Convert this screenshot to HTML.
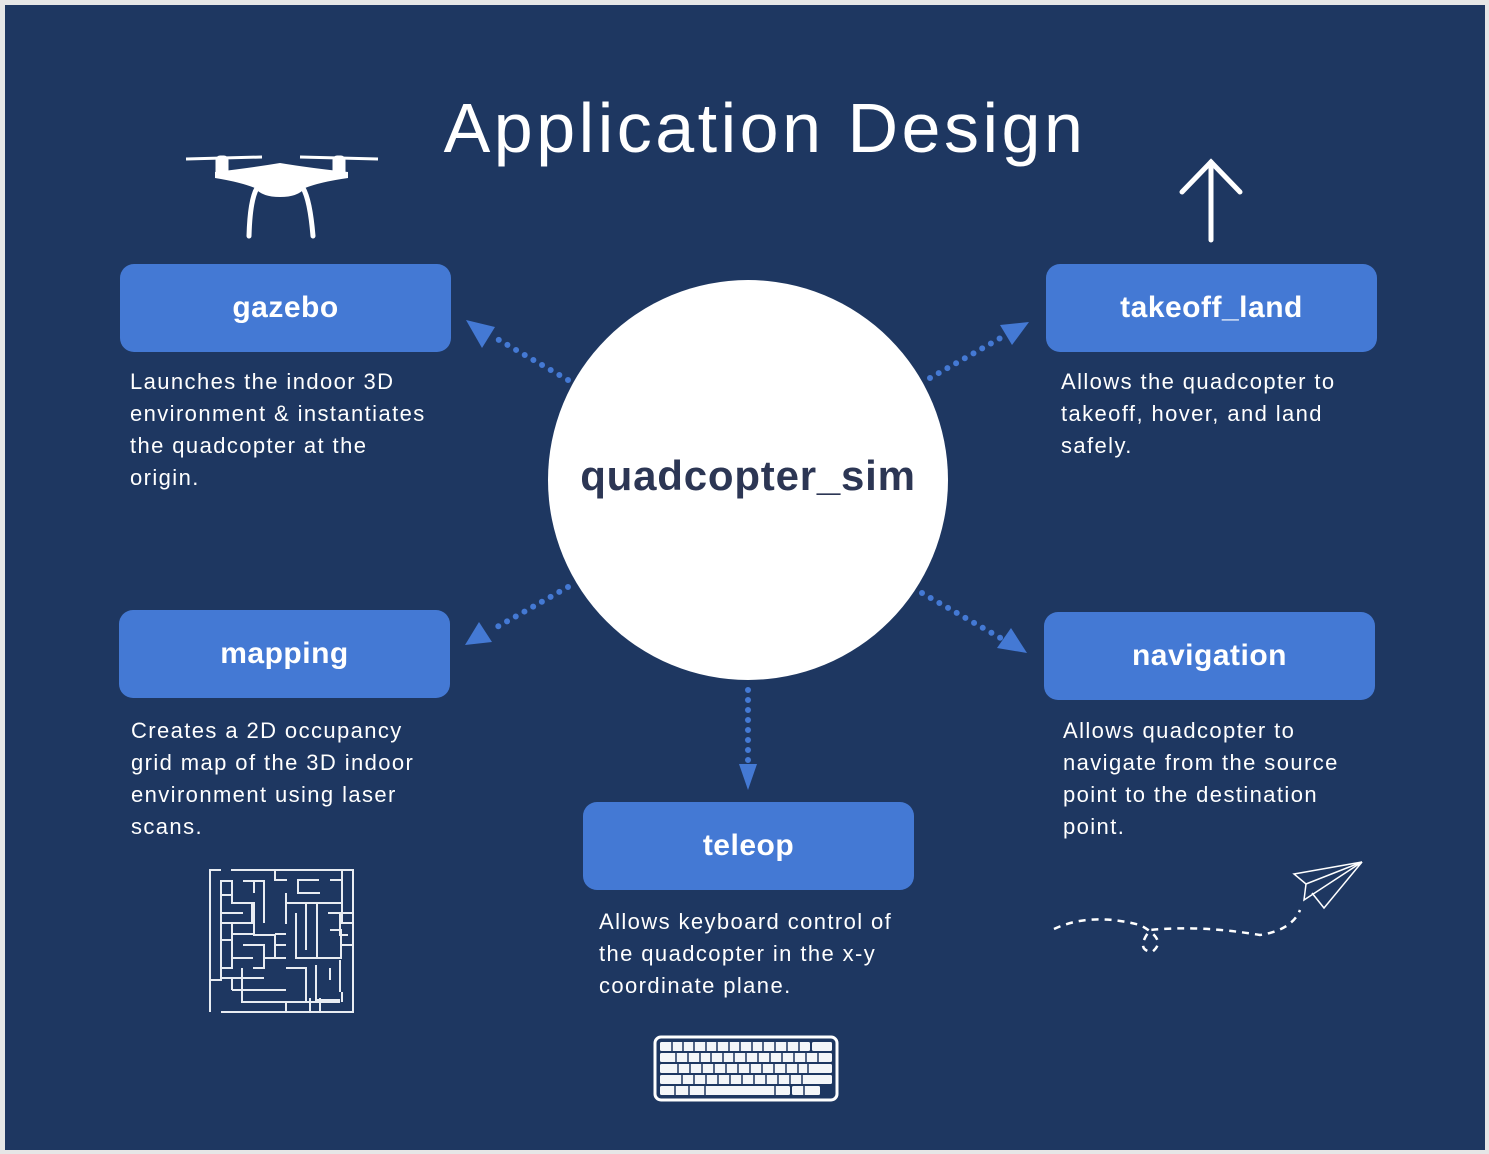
<!DOCTYPE html>
<html><head><meta charset="utf-8"><style>
html,body{margin:0;padding:0;width:1489px;height:1154px;overflow:hidden;background:#e6e6e6}
#bg{position:absolute;left:5px;top:5px;width:1480px;height:1145px;background:#1e3761}
.t{position:absolute;font-family:"Liberation Sans",sans-serif;color:#fff}
.box{position:absolute;width:331px;height:88px;background:#4479d4;border-radius:14px;color:#fff;font:bold 30px "Liberation Sans",sans-serif;letter-spacing:0.5px;display:flex;align-items:center;justify-content:center}
.d{position:absolute;font:22px/32px "Liberation Sans",sans-serif;letter-spacing:1.4px;color:#fff;white-space:nowrap}
</style></head><body>
<div id="bg"></div>
<div class="t" style="left:0;width:1530px;top:88px;text-align:center;font-size:70px;letter-spacing:3.5px">Application Design</div>
<svg width="1489" height="1154" style="position:absolute;left:0;top:0">
<g stroke="#4479d4" stroke-width="6" stroke-linecap="round" stroke-dasharray="0 10" fill="none">
<line x1="568" y1="380" x2="492" y2="336"/><line x1="930" y1="378" x2="1004" y2="336"/>
<line x1="568" y1="587" x2="490" y2="631"/><line x1="922" y1="593" x2="1004" y2="640"/>
<line x1="748" y1="690" x2="748" y2="765"/></g>
<g fill="#4479d4">
<polygon points="466,320 495,327 482,348"/><polygon points="1029,322 1012,345 1000,325"/>
<polygon points="465,645 479,622 492,642"/><polygon points="1027,653 997,648 1011,628"/>
<polygon points="748,790 739,764 757,764"/></g>
<circle cx="748" cy="480" r="200" fill="#fff"/>
<g fill="#fff" stroke="#fff">
<line x1="186" y1="159" x2="262" y2="157" stroke-width="3"/><line x1="300" y1="157" x2="378" y2="159" stroke-width="3"/>
<rect x="216" y="156" width="12" height="22" rx="4"/><rect x="333" y="156" width="12" height="22" rx="4"/>
<path d="M215,172 Q250,168 280,163 Q310,168 348,172 L348,178 Q320,182 305,188 Q298,197 280,197 Q262,197 255,188 Q240,182 215,178z" stroke="none"/>
<path d="M257,188 Q250,200 249,236" fill="none" stroke-width="5" stroke-linecap="round"/>
<path d="M303,188 Q310,200 313,236" fill="none" stroke-width="5" stroke-linecap="round"/>
</g>
<g stroke="#fff" stroke-width="5" fill="none" stroke-linecap="round"><line x1="1211" y1="162" x2="1211" y2="240"/><polyline points="1182,192 1211,162 1240,192"/></g>
<g stroke="#e8ecf2" stroke-width="2" fill="none">
<path d="M210,1012V870H221M231,870H353V1012H221M210,980H221V880"/>
<path d="M220,881H232V903H252V923H232V940H221M220,895H231M243,881H264V923M254,881V893M221,913H243M221,923H232M243,903H254V934H232V968H221"/>
<path d="M275,870V880H287M297,880H319M298,880V893H320M286,903H331M342,870V923H353M330,880H342M330,903H341M340,913H353"/>
<path d="M286,893V924M296,913V958H330M306,903V950M317,903V958M328,913H340V935H348M340,945H353M330,930H341V958H306"/>
<path d="M243,945H264V958H286M264,945V968H253M275,934H286M275,945H286M232,958H253M253,935H275V958"/>
<path d="M221,978H264M232,990H286M242,968V1002H297M232,978V990M286,968H306V1002M275,990H286M316,965V1000H340M340,960V992M330,968V980M286,1002V1012M296,1002H340M342,1002V992M310,1012V998M320,1012V998"/>
</g>
<rect x="655" y="1037" width="182" height="63" rx="6" fill="none" stroke="#fff" stroke-width="3"/>
<g fill="#f4f6f9">
<rect x="660" y="1042" width="150" height="9" rx="1.5"/><rect x="812" y="1042" width="20" height="9" rx="1.5"/>
<rect x="660" y="1053" width="172" height="9" rx="1.5"/><rect x="660" y="1064" width="172" height="9" rx="1.5"/>
<rect x="660" y="1075" width="172" height="9" rx="1.5"/><rect x="660" y="1086" width="130" height="9" rx="1.5"/><rect x="792" y="1086" width="28" height="9" rx="1.5"/>
</g>
<g stroke="#1e3761" stroke-width="1.5">
<path d="M672,1042v9M683,1042v9M694,1042v9M706,1042v9M717,1042v9M729,1042v9M740,1042v9M752,1042v9M763,1042v9M775,1042v9M787,1042v9M799,1042v9"/>
<path d="M676,1053v9M688,1053v9M700,1053v9M711,1053v9M723,1053v9M734,1053v9M746,1053v9M758,1053v9M770,1053v9M782,1053v9M794,1053v9M806,1053v9M818,1053v9"/>
<path d="M678,1064v9M690,1064v9M702,1064v9M714,1064v9M726,1064v9M738,1064v9M750,1064v9M762,1064v9M774,1064v9M786,1064v9M798,1064v9M808,1064v9"/>
<path d="M682,1075v9M694,1075v9M706,1075v9M718,1075v9M730,1075v9M742,1075v9M754,1075v9M766,1075v9M778,1075v9M790,1075v9M802,1075v9"/>
<path d="M675,1086v9M689,1086v9M705,1086v9M775,1086v9M804,1086v9"/>
</g>
<g stroke="#fff" stroke-width="1.5" fill="none"><polygon points="1294,874 1362,862 1306,884"/><path d="M1306,884L1304,900L1362,862L1324,908L1312,893"/></g>
<path d="M1054,929 Q1090,912 1140,925 Q1168,940 1152,952 Q1135,950 1150,930 Q1200,925 1260,935 Q1292,930 1300,910" fill="none" stroke="#fff" stroke-width="2.5" stroke-dasharray="7 6"/>
</svg>
<div class="t" style="left:498px;width:500px;top:452px;text-align:center;font-weight:bold;font-size:42px;letter-spacing:0.8px;color:#2c3654">quadcopter_sim</div>
<div class="box" style="left:120px;top:264px">gazebo</div>
<div class="box" style="left:1046px;top:264px">takeoff_land</div>
<div class="box" style="left:119px;top:610px">mapping</div>
<div class="box" style="left:1044px;top:612px">navigation</div>
<div class="box" style="left:583px;top:802px">teleop</div>
<div class="d" style="left:130px;top:366px">Launches the indoor 3D<br>environment &amp; instantiates<br>the quadcopter at the<br>origin.</div>
<div class="d" style="left:1061px;top:366px">Allows the quadcopter to<br>takeoff, hover, and land<br>safely.</div>
<div class="d" style="left:131px;top:715px">Creates a 2D occupancy<br>grid map of the 3D indoor<br>environment using laser<br>scans.</div>
<div class="d" style="left:1063px;top:715px">Allows quadcopter to<br>navigate from the source<br>point to the destination<br>point.</div>
<div class="d" style="left:599px;top:906px">Allows keyboard control of<br>the quadcopter in the x-y<br>coordinate plane.</div>
</body></html>
